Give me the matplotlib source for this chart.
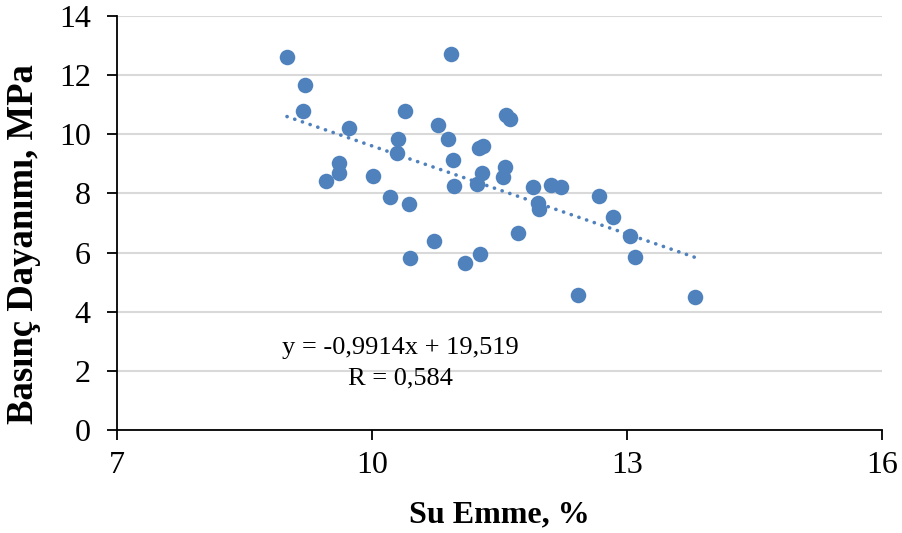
import matplotlib.pyplot as plt
import numpy as np

plt.rcParams['font.family'] = ['Liberation Serif', 'DejaVu Serif']

# Su emme (%) and basinc dayanimi (MPa)
su_emme = [9.00, 9.21, 9.19, 9.73, 9.61, 9.61, 9.46, 10.01, 10.21, 10.31,
           10.30, 10.39, 10.44, 10.45, 10.73, 10.78, 10.89, 10.93, 10.95, 10.97,
           11.09, 11.24, 11.26, 11.31, 11.30, 11.27, 11.54, 11.57, 11.58, 11.63,
           11.72, 11.90, 11.95, 11.96, 12.11, 12.22, 12.43, 12.67, 12.84, 13.04,
           13.10, 13.80]
basinc = [12.60, 11.67, 10.78, 10.20, 9.02, 8.68, 8.42, 8.60, 7.87, 9.84,
          9.36, 10.78, 7.64, 5.83, 6.39, 10.31, 9.84, 12.72, 9.12, 8.25,
          5.66, 8.30, 9.53, 9.61, 8.68, 5.96, 8.56, 8.90, 10.65, 10.52,
          6.67, 8.21, 7.67, 7.47, 8.29, 8.23, 4.56, 7.92, 7.20, 6.56,
          5.86, 4.51]

# trend line as printed on the chart
egim = -0.9914
kesisim = 19.519

fig = plt.figure(figsize=(9.03, 5.33), dpi=100)
ax = fig.add_axes([0.1296, 0.1932, 0.847, 0.777])

ax.scatter(su_emme, basinc, s=125, color='#4F81BD', zorder=3, linewidths=0)

xt = np.array([min(su_emme), max(su_emme)])
ax.plot(xt, egim * xt + kesisim, color='#4F81BD', lw=2.6,
        linestyle=(0, (0.05, 2.2)), dash_capstyle='round', zorder=2)

ax.text(10.33, 2.77, 'y = -0,9914x + 19,519', ha='center', va='center', fontsize=19)
ax.text(10.33, 1.76, 'R = 0,584', ha='center', va='center', fontsize=19)

ax.set_xlim(7, 16)
ax.set_ylim(0, 14)
ax.set_xticks([7, 10, 13, 16])
ax.set_yticks(np.arange(0, 15, 2))
ax.grid(axis='y', color='#D9D9D9', lw=1.5, zorder=0)
ax.set_axisbelow(True)
for s in ['top', 'right']:
    ax.spines[s].set_visible(False)
for s in ['left', 'bottom']:
    ax.spines[s].set_linewidth(1.3)
ax.tick_params(labelsize=23, length=7, width=1.3, direction='out')
ax.tick_params(axis='y', pad=12)
ax.tick_params(axis='x', pad=8)
ax.set_xlabel('Su Emme, %', fontsize=23, fontweight='bold')
ax.set_ylabel('Basınç Dayanımı, MPa', fontsize=26.5, fontweight='bold')
ax.xaxis.set_label_coords(0.5, -0.17)
ax.yaxis.set_label_coords(-0.1, 0.449)

fig.savefig('out.png', dpi=100)
